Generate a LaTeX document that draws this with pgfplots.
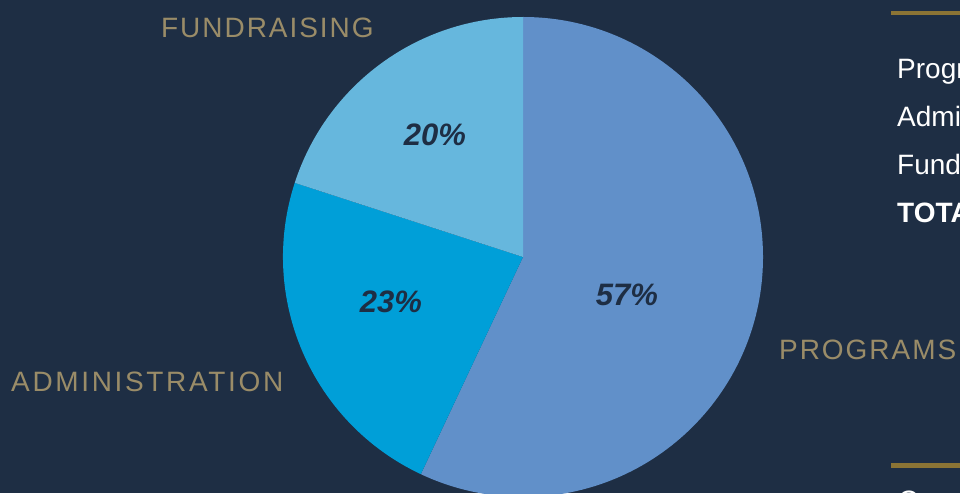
\documentclass[border=0pt]{standalone}
\usepackage{pgfplots}
\pgfplotsset{compat=1.18}
\usepackage{fontspec}
\setmainfont{Liberation Sans}
\newfontfamily\labelfont[LetterSpace=7]{Liberation Sans}
\newfontfamily\labelfontw[LetterSpace=9.5]{Liberation Sans}
\definecolor{bg}{HTML}{1E2E44}
\definecolor{progc}{HTML}{6190C9}
\definecolor{adminc}{HTML}{009FD8}
\definecolor{fundc}{HTML}{66B7DD}
\definecolor{goldtxt}{HTML}{9A8C68}
\definecolor{goldline}{HTML}{8B7435}
\begin{document}
\begin{tikzpicture}
\fill[bg] (0,0) rectangle (960pt,493pt);
\begin{axis}[
  at={(0,0)}, anchor=south west,
  scale only axis, width=960pt, height=493pt,
  xmin=0, xmax=960, ymin=0, ymax=493,
  hide axis, clip=true,
]
% pie data: value (percent) / colour
\def\piestart{90}
\foreach \v/\c in {57/progc,23/adminc,20/fundc} {
  \pgfmathsetmacro\pieend{\piestart-3.6*\v}
  \edef\tmp{\noexpand\fill[\c] (axis cs:523,236) -- ++(\piestart:240pt) arc[start angle=\piestart, end angle=\pieend, radius=240pt] -- cycle;}
  \tmp
  \global\let\piestart\pieend
}
\node[font=\fontsize{31}{36}\selectfont\bfseries\itshape, text=bg] at (axis cs:627,198) {57\%};
\node[font=\fontsize{31}{36}\selectfont\bfseries\itshape, text=bg] at (axis cs:391,191) {23\%};
\node[font=\fontsize{31}{36}\selectfont\bfseries\itshape, text=bg] at (axis cs:435,358) {20\%};
% outside labels
\node[anchor=base west, inner sep=0pt, text=goldtxt, font=\fontsize{28}{32}\selectfont\labelfont] at (axis cs:161,455) {FUNDRAISING};
\node[anchor=base west, inner sep=0pt, text=goldtxt, font=\fontsize{28}{32}\selectfont\labelfontw] at (axis cs:11,102) {ADMINISTRATION};
\node[anchor=base west, inner sep=0pt, text=goldtxt, font=\fontsize{28}{32}\selectfont\labelfont] at (axis cs:779,134) {PROGRAMS};
% side table
\fill[goldline] (axis cs:891,478) rectangle (axis cs:960,482);
\fill[goldline] (axis cs:891,25) rectangle (axis cs:960,30);
\node[anchor=base west, inner sep=0pt, text=white, font=\fontsize{28}{32}\selectfont] at (axis cs:897,414) {Programs};
\node[anchor=base west, inner sep=0pt, text=white, font=\fontsize{28}{32}\selectfont] at (axis cs:897,366) {Administration};
\node[anchor=base west, inner sep=0pt, text=white, font=\fontsize{28}{32}\selectfont] at (axis cs:897,318) {Fundraising};
\node[anchor=base west, inner sep=0pt, text=white, font=\fontsize{28}{32}\selectfont\bfseries] at (axis cs:897,270) {TOTAL};
\node[anchor=base west, inner sep=0pt, text=white, font=\fontsize{28}{32}\selectfont] at (axis cs:898,-17) {C};
\end{axis}
\pgfresetboundingbox
\useasboundingbox (0,0) rectangle (960pt,493pt);
\end{tikzpicture}
\end{document}
